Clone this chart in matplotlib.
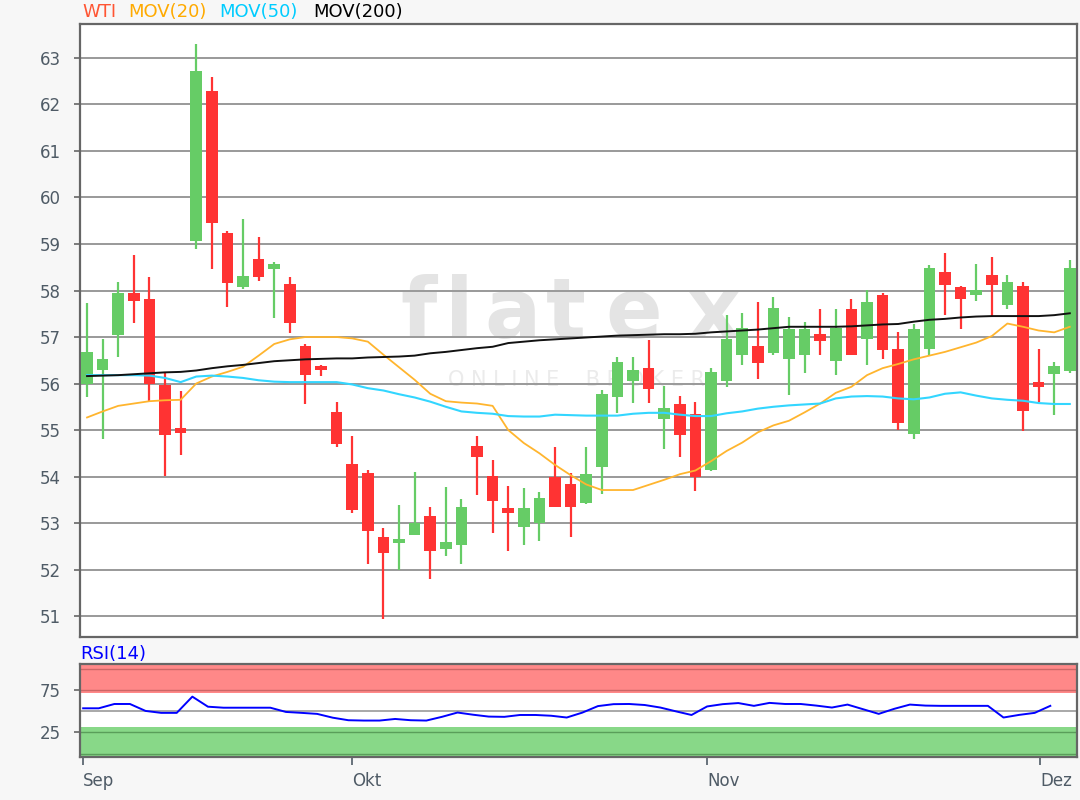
import matplotlib
matplotlib.use('Agg')
import matplotlib.pyplot as plt
import numpy as np

plt.rcParams['font.family'] = ['DejaVu Sans']

# daily WTI candles, Sep - Dec
opens = [56.00, 56.28, 57.04, 57.94, 57.81, 55.97, 55.05, 59.07, 62.28, 59.23,
         58.08, 58.67, 58.47, 58.15, 56.81, 56.38, 55.39, 54.28, 54.07, 52.69,
         52.58, 52.74, 53.16, 52.45, 52.53, 54.66, 54.02, 53.32, 52.92, 53.01,
         53.98, 53.85, 53.44, 54.21, 55.72, 56.06, 56.34, 55.24, 55.56, 55.34,
         54.15, 56.06, 56.61, 56.81, 56.65, 56.53, 56.61, 57.06, 56.49, 57.60,
         56.96, 57.90, 56.74, 54.91, 56.74, 58.40, 58.07, 57.90, 58.33, 57.69,
         58.10, 56.04, 56.20, 56.27]
highs = [57.73, 56.95, 58.19, 58.76, 58.28, 56.23, 55.83, 63.30, 62.58, 59.27,
         59.53, 59.14, 58.62, 58.28, 56.86, 56.40, 55.61, 54.88, 54.14, 52.90,
         53.39, 54.10, 53.34, 53.77, 53.51, 54.88, 54.35, 53.80, 53.76, 53.66,
         54.63, 54.07, 54.63, 55.86, 56.56, 56.56, 56.94, 55.95, 55.73, 55.61,
         56.34, 57.47, 57.51, 57.76, 57.85, 57.42, 57.33, 57.60, 57.60, 57.81,
         58.01, 57.94, 57.11, 57.29, 58.55, 58.80, 58.10, 58.57, 58.71, 58.33,
         58.19, 56.74, 56.47, 58.66]
lows = [55.72, 54.81, 56.58, 57.31, 55.61, 54.02, 54.46, 58.89, 58.46, 57.65,
        58.03, 58.21, 57.40, 57.09, 55.57, 56.17, 54.63, 53.21, 52.13, 50.93,
        51.99, 52.74, 51.79, 52.30, 52.13, 53.60, 52.79, 52.40, 52.53, 52.62,
        53.35, 52.71, 53.42, 53.62, 55.37, 55.59, 55.59, 54.59, 54.43, 53.69,
        54.12, 55.93, 56.40, 56.10, 56.61, 55.75, 56.22, 56.61, 56.18, 56.61,
        56.40, 56.52, 55.01, 54.80, 56.59, 57.47, 57.17, 57.77, 57.45, 57.60,
        54.98, 55.61, 55.32, 56.22]
closes = [56.68, 56.52, 57.94, 57.78, 56.00, 54.89, 54.94, 62.71, 59.46, 58.17,
          58.32, 58.30, 58.57, 57.30, 56.18, 56.28, 54.71, 53.29, 52.83, 52.35,
          52.65, 53.01, 52.40, 52.60, 53.34, 54.41, 53.48, 53.22, 53.32, 53.54,
          53.35, 53.35, 54.05, 55.77, 56.47, 56.29, 55.88, 55.48, 54.89, 54.00,
          56.25, 56.95, 57.19, 56.45, 57.63, 57.17, 57.17, 56.92, 57.20, 56.61,
          57.76, 56.71, 55.16, 57.17, 58.49, 58.12, 57.82, 58.01, 58.12, 58.19,
          55.41, 55.93, 56.38, 58.49]

mov20 = [55.27, 55.40, 55.52, 55.57, 55.62, 55.64, 55.65, 56.00, 56.15, 56.25,
         56.36, 56.60, 56.85, 56.95, 57.00, 57.00, 57.00, 56.97, 56.90, 56.62,
         56.35, 56.08, 55.78, 55.62, 55.59, 55.57, 55.52, 55.00, 54.72, 54.50,
         54.25, 54.03, 53.83, 53.71, 53.71, 53.71, 53.82, 53.93, 54.05, 54.13,
         54.33, 54.55, 54.73, 54.95, 55.10, 55.20, 55.38, 55.57, 55.80, 55.93,
         56.18, 56.33, 56.42, 56.52, 56.60, 56.68, 56.78, 56.88, 57.02, 57.29,
         57.22, 57.14, 57.10, 57.22]
mov50 = [56.18, 56.18, 56.18, 56.18, 56.17, 56.12, 56.03, 56.15, 56.17, 56.15,
         56.12, 56.07, 56.04, 56.03, 56.03, 56.03, 56.03, 55.98, 55.90, 55.85,
         55.77, 55.70, 55.61, 55.50, 55.40, 55.37, 55.35, 55.30, 55.29, 55.29,
         55.33, 55.32, 55.31, 55.31, 55.31, 55.35, 55.37, 55.37, 55.33, 55.30,
         55.30, 55.36, 55.40, 55.46, 55.50, 55.53, 55.55, 55.57, 55.68, 55.72,
         55.73, 55.72, 55.68, 55.66, 55.70, 55.78, 55.81, 55.74, 55.68, 55.65,
         55.63, 55.58, 55.56, 55.56]
mov200 = [56.16, 56.17, 56.18, 56.20, 56.22, 56.24, 56.25, 56.28, 56.33, 56.37,
          56.40, 56.44, 56.48, 56.50, 56.52, 56.53, 56.54, 56.54, 56.56, 56.57,
          56.58, 56.60, 56.65, 56.68, 56.72, 56.76, 56.79, 56.87, 56.90, 56.93,
          56.95, 56.97, 56.99, 57.01, 57.03, 57.04, 57.05, 57.06, 57.06, 57.07,
          57.10, 57.12, 57.14, 57.16, 57.19, 57.22, 57.22, 57.22, 57.22, 57.23,
          57.25, 57.27, 57.28, 57.33, 57.37, 57.39, 57.42, 57.44, 57.45, 57.45,
          57.45, 57.45, 57.47, 57.51]

rsi = [53.6, 53.6, 58.7, 58.7, 50.5, 48.2, 48.2, 67.4, 55.5, 54.3,
       54.3, 54.3, 54.3, 49.3, 48.2, 47.0, 42.5, 39.5, 39.1, 39.1,
       41.0, 39.5, 39.1, 43.5, 48.6, 46.0, 43.8, 43.5, 45.7, 45.7,
       44.8, 42.7, 48.5, 56.2, 58.5, 58.7, 57.5, 54.5, 50.0, 45.7,
       55.8, 58.5, 59.8, 56.5, 60.0, 58.7, 58.7, 56.8, 54.5, 58.0,
       52.5, 47.0, 53.0, 58.0, 56.8, 56.5, 56.5, 56.5, 56.5, 42.7,
       45.8, 48.2, 56.5]

month_labels = ['Sep', 'Okt', 'Nov', 'Dez']
month_pos = [-0.25, 17.0, 39.75, 61.1]

green = '#66cc66'
red = '#ff3333'
frame = '#666666'
txt = '#4f5b66'

fig = plt.figure(figsize=(10.8, 8), dpi=100, facecolor='#f7f7f7')
ax = fig.add_axes([0.0741, 0.20375, 0.9231, 0.76625])
ax2 = fig.add_axes([0.0741, 0.05375, 0.9231, 0.11625])

x = np.arange(len(opens))
o = np.array(opens)
c = np.array(closes)
up = c >= o
cols = np.where(up, green, red)

ax.vlines(x, lows, highs, colors=cols, linewidth=1.6, zorder=3)
ax.bar(x, np.abs(c - o), bottom=np.minimum(o, c), width=0.75,
       color=cols, linewidth=0, zorder=4)

ax.plot(x, mov20, color='#ffb52e', linewidth=1.3, zorder=5)
ax.plot(x, mov50, color='#33d6ff', linewidth=1.5, zorder=5)
ax.plot(x, mov200, color='#111111', linewidth=1.4, zorder=5)

# watermark, letter by letter
for ch, px in zip('flatex', [0.340, 0.380, 0.434, 0.487, 0.555, 0.636]):
    ax.text(px, 0.488, ch, transform=ax.transAxes, fontsize=60,
            fontweight='bold', color='#e4e4e4', ha='center', va='baseline',
            zorder=0.2)
ax.text(0.498, 0.42, 'O N L I N E    B R O K E R', transform=ax.transAxes,
        fontsize=15, color='#ebebeb', ha='center', va='center', zorder=0.2)

ax.set_xlim(-0.45, 63.46)
ax.set_ylim(50.55, 63.73)
ax.set_yticks(np.arange(51, 64))
ax.yaxis.grid(True, color='#999999', linewidth=1.4)
ax.set_axisbelow(True)
ax.set_xticks([])
ax.tick_params(axis='y', colors=frame, labelcolor=txt, labelsize=12,
               length=4, width=1.2, pad=10)
for s in ax.spines.values():
    s.set_color(frame)
    s.set_linewidth(1.6)

# legend line above chart
fig.text(0.0759, 0.985, 'WTI', color='#ff5533', fontsize=13, va='center')
fig.text(0.1185, 0.985, 'MOV(20)', color='#ffaa00', fontsize=13, va='center')
fig.text(0.2028, 0.985, 'MOV(50)', color='#00ccff', fontsize=13, va='center')
fig.text(0.2898, 0.985, 'MOV(200)', color='#000000', fontsize=13, va='center')

# RSI panel
ax2.set_xlim(-0.45, 63.46)
ax2.set_ylim(-4, 106)
ax2.axhspan(72, 106, color='#ff8888', linewidth=0, zorder=0)
ax2.axhspan(-4, 32, color='#88d888', linewidth=0, zorder=0)
for lv in [100, 75]:
    ax2.axhline(lv, color='#cc6666', linewidth=1.0, zorder=1)
for lv in [25, 0]:
    ax2.axhline(lv, color='#5a9e5a', linewidth=1.0, zorder=1)
ax2.axhline(50, color='#999999', linewidth=1.2, zorder=1)
ax2.plot(np.arange(len(rsi)) - 0.25, rsi, color='#0000ff', linewidth=1.4,
         zorder=3)
ax2.set_yticks([25, 75])
ax2.set_xticks(month_pos)
ax2.set_xticklabels(month_labels, ha='left')
ax2.tick_params(axis='x', colors=txt, labelcolor=txt, labelsize=12,
                length=6, width=1.2, pad=5)
ax2.tick_params(axis='y', colors=frame, labelcolor=txt, labelsize=12,
                length=4, width=1.2, pad=10)
for s in ax2.spines.values():
    s.set_color(frame)
    s.set_linewidth(1.6)
fig.text(0.0741, 0.182, 'RSI(14)', color='#0000ff', fontsize=13, va='center')

fig.savefig('out.png', dpi=100, facecolor=fig.get_facecolor())
